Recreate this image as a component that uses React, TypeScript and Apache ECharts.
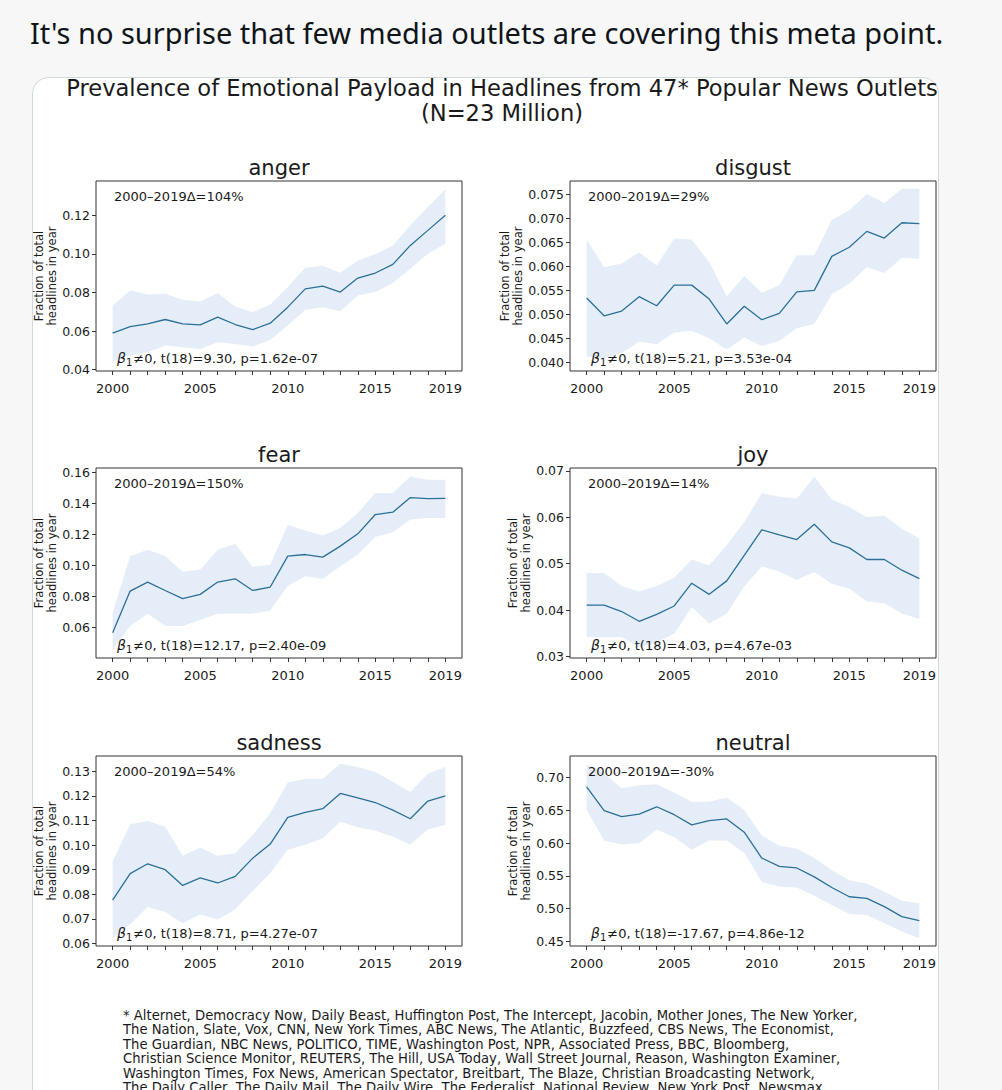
import React, { useEffect, useRef } from "react";
import * as echarts from "echarts";

const years = [2000, 2001, 2002, 2003, 2004, 2005, 2006, 2007, 2008, 2009, 2010, 2011, 2012, 2013, 2014, 2015, 2016, 2017, 2018, 2019];
const xLabelYears = [2000, 2005, 2010, 2015, 2019];
const emotions = ["anger", "disgust", "fear", "joy", "sadness", "neutral"];

const angerMean = [0.0589, 0.0623, 0.0637, 0.0660, 0.0637, 0.0632, 0.0672, 0.0634, 0.0608, 0.0641, 0.0724, 0.0819, 0.0833, 0.0802, 0.0875, 0.0901, 0.0946, 0.1044, 0.1122, 0.1200];
const angerUpper = [0.0733, 0.0810, 0.0790, 0.0793, 0.0762, 0.0753, 0.0797, 0.0727, 0.0698, 0.0738, 0.0828, 0.0928, 0.0939, 0.0902, 0.0966, 0.0998, 0.1044, 0.1148, 0.1243, 0.1334];
const angerLower = [0.0443, 0.0473, 0.0490, 0.0525, 0.0516, 0.0507, 0.0542, 0.0533, 0.0520, 0.0554, 0.0629, 0.0710, 0.0724, 0.0703, 0.0785, 0.0802, 0.0849, 0.0923, 0.1001, 0.1053];

const disgustMean = [0.0534, 0.0497, 0.0507, 0.0537, 0.0518, 0.0561, 0.0561, 0.0532, 0.0480, 0.0517, 0.0489, 0.0502, 0.0547, 0.0550, 0.0621, 0.0640, 0.0673, 0.0659, 0.0691, 0.0689];
const disgustUpper = [0.0656, 0.0598, 0.0606, 0.0629, 0.0602, 0.0658, 0.0656, 0.0609, 0.0538, 0.0580, 0.0545, 0.0561, 0.0623, 0.0623, 0.0697, 0.0717, 0.0751, 0.0732, 0.0762, 0.0762];
const disgustLower = [0.0412, 0.0408, 0.0419, 0.0443, 0.0438, 0.0462, 0.0466, 0.0450, 0.0427, 0.0452, 0.0434, 0.0445, 0.0471, 0.0480, 0.0542, 0.0564, 0.0598, 0.0586, 0.0618, 0.0616];

const fearMean = [0.0568, 0.0835, 0.0893, 0.0839, 0.0786, 0.0814, 0.0893, 0.0914, 0.0839, 0.0861, 0.1060, 0.1070, 0.1053, 0.1124, 0.1203, 0.1327, 0.1342, 0.1436, 0.1429, 0.1431];
const fearUpper = [0.0696, 0.1060, 0.1100, 0.1060, 0.0960, 0.0974, 0.1100, 0.1140, 0.0990, 0.1005, 0.1260, 0.1225, 0.1192, 0.1241, 0.1337, 0.1465, 0.1465, 0.1572, 0.1551, 0.1551];
const fearLower = [0.0457, 0.0610, 0.0690, 0.0610, 0.0610, 0.0650, 0.0690, 0.0690, 0.0690, 0.0710, 0.0867, 0.0930, 0.0914, 0.0995, 0.1070, 0.1183, 0.1213, 0.1295, 0.1305, 0.1305];

const joyMean = [0.0411, 0.0411, 0.0397, 0.0376, 0.0391, 0.0409, 0.0458, 0.0434, 0.0463, 0.0518, 0.0573, 0.0562, 0.0552, 0.0585, 0.0547, 0.0534, 0.0509, 0.0509, 0.0486, 0.0468];
const joyUpper = [0.0480, 0.0480, 0.0452, 0.0440, 0.0452, 0.0470, 0.0509, 0.0496, 0.0540, 0.0590, 0.0652, 0.0644, 0.0640, 0.0687, 0.0638, 0.0622, 0.0600, 0.0604, 0.0575, 0.0554];
const joyLower = [0.0342, 0.0342, 0.0342, 0.0320, 0.0331, 0.0349, 0.0406, 0.0372, 0.0392, 0.0451, 0.0494, 0.0483, 0.0465, 0.0482, 0.0457, 0.0446, 0.0419, 0.0415, 0.0393, 0.0381];

const sadnessMean = [0.0776, 0.0884, 0.0924, 0.0900, 0.0836, 0.0867, 0.0846, 0.0873, 0.0947, 0.1004, 0.1113, 0.1133, 0.1148, 0.1210, 0.1192, 0.1173, 0.1142, 0.1107, 0.1179, 0.1200];
const sadnessUpper = [0.0934, 0.1085, 0.1098, 0.1075, 0.0957, 0.0990, 0.0957, 0.0967, 0.1041, 0.1129, 0.1254, 0.1270, 0.1270, 0.1331, 0.1317, 0.1297, 0.1257, 0.1216, 0.1290, 0.1317];
const sadnessLower = [0.0624, 0.0678, 0.0748, 0.0728, 0.0682, 0.0718, 0.0698, 0.0739, 0.0813, 0.0887, 0.0981, 0.1001, 0.1028, 0.1095, 0.1072, 0.1058, 0.1035, 0.1001, 0.1064, 0.1082];

const neutralMean = [0.6858, 0.6495, 0.6404, 0.6444, 0.6555, 0.6434, 0.6278, 0.6343, 0.6369, 0.6167, 0.5773, 0.5646, 0.5621, 0.5485, 0.5323, 0.5182, 0.5157, 0.5030, 0.4879, 0.4818];
const neutralUpper = [0.7202, 0.7065, 0.6838, 0.6884, 0.6899, 0.6772, 0.6631, 0.6631, 0.6697, 0.6505, 0.6116, 0.5965, 0.5914, 0.5773, 0.5586, 0.5434, 0.5384, 0.5258, 0.5121, 0.5081];
const neutralLower = [0.6505, 0.6040, 0.5980, 0.6000, 0.6207, 0.6091, 0.5899, 0.6040, 0.6040, 0.5848, 0.5409, 0.5333, 0.5323, 0.5197, 0.5056, 0.4919, 0.4904, 0.4778, 0.4651, 0.4550];

const angerTicks = ["0.04", "0.06", "0.08", "0.10", "0.12"];
const disgustTicks = ["0.040", "0.045", "0.050", "0.055", "0.060", "0.065", "0.070", "0.075"];
const fearTicks = ["0.06", "0.08", "0.10", "0.12", "0.14", "0.16"];
const joyTicks = ["0.03", "0.04", "0.05", "0.06", "0.07"];
const sadnessTicks = ["0.06", "0.07", "0.08", "0.09", "0.10", "0.11", "0.12", "0.13"];
const neutralTicks = ["0.45", "0.50", "0.55", "0.60", "0.65", "0.70"];

const yMins = [0.0393, 0.0382, 0.0405, 0.0297, 0.0590, 0.4430];
const yMaxs = [0.1378, 0.0778, 0.1626, 0.0706, 0.1362, 0.7330];

const deltaLabels = ["2000–2019Δ=104%", "2000–2019Δ=29%", "2000–2019Δ=150%", "2000–2019Δ=14%", "2000–2019Δ=54%", "2000–2019Δ=-30%"];
const tStats = ["9.30", "5.21", "12.17", "4.03", "8.71", "-17.67"];
const pValues = ["1.62e-07", "3.53e-04", "2.40e-09", "4.67e-03", "4.27e-07", "4.86e-12"];

const tweetText = "It's no surprise that few media outlets are covering this meta point.";
const titleLines = ["Prevalence of Emotional Payload in Headlines from 47* Popular News Outlets", "(N=23 Million)"];
const yAxisName = "Fraction of total\nheadlines in year";
const footnoteLines = [
  "* Alternet, Democracy Now, Daily Beast, Huffington Post, The Intercept, Jacobin, Mother Jones, The New Yorker,",
  "The Nation, Slate, Vox, CNN, New York Times, ABC News, The Atlantic, Buzzfeed, CBS News, The Economist,",
  "The Guardian, NBC News, POLITICO, TIME, Washington Post, NPR, Associated Press, BBC, Bloomberg,",
  "Christian Science Monitor, REUTERS, The Hill, USA Today, Wall Street Journal, Reason, Washington Examiner,",
  "Washington Times, Fox News, American Spectator, Breitbart, The Blaze, Christian Broadcasting Network,",
  "The Daily Caller, The Daily Mail, The Daily Wire, The Federalist, National Review, New York Post, Newsmax",
];

const means = [angerMean, disgustMean, fearMean, joyMean, sadnessMean, neutralMean];
const uppers = [angerUpper, disgustUpper, fearUpper, joyUpper, sadnessUpper, neutralUpper];
const lowers = [angerLower, disgustLower, fearLower, joyLower, sadnessLower, neutralLower];
const tickLabels = [angerTicks, disgustTicks, fearTicks, joyTicks, sadnessTicks, neutralTicks];

const FONT = "DejaVu Sans";
const LINE = "#2b6f98";
const BAND = "#e5eef8";
const AX = "#333333";
const TXT = "#1a1a1a";

const colLeft = [96, 570];
const rowTop = [181, 468, 756];
const GW = 366;
const GH = 190;

function buildOption() {
  const grids: any[] = [];
  const xAxes: any[] = [];
  const yAxes: any[] = [];
  const series: any[] = [];
  const graphics: any[] = [];

  graphics.push({
    type: "rect", z: -10, silent: true,
    shape: { x: 32.5, y: 77.5, width: 906, height: 1030, r: 16 },
    style: { fill: "#ffffff", stroke: "#cfd9de", lineWidth: 1 },
  });
  graphics.push({
    type: "text", z: 100, x: 30, y: 32,
    style: { text: tweetText, font: "29px 'Noto Sans'", fill: "#0f1419", textVerticalAlign: "middle" },
  });
  titleLines.forEach((t, k) => {
    graphics.push({
      type: "text", z: 100, x: 502, y: 88 + k * 25,
      style: { text: t, fontFamily: FONT, fontSize: 22.6, fill: TXT, textAlign: "center", textVerticalAlign: "middle" },
    });
  });

  emotions.forEach((name, i) => {
    const left = colLeft[i % 2];
    const top = rowTop[Math.floor(i / 2)];
    grids.push({
      left, top, width: GW, height: GH, show: true,
      borderColor: AX, borderWidth: 1, backgroundColor: "transparent",
      containLabel: false, outerBoundsMode: "none",
    });
    xAxes.push({
      type: "value", gridIndex: i, min: 1999.05, max: 2019.95,
      splitLine: { show: false },
      axisLine: { show: false },
      axisTick: { show: true, customValues: years, length: 4, lineStyle: { color: AX, width: 1 } },
      axisLabel: {
        customValues: xLabelYears, margin: 11, fontSize: 13, fontFamily: FONT, color: TXT,
        formatter: (v: number) => String(Math.round(v)),
      },
    });
    const labels = tickLabels[i];
    const vals = labels.map((s) => parseFloat(s));
    yAxes.push({
      type: "value", gridIndex: i, min: yMins[i], max: yMaxs[i],
      splitLine: { show: false },
      axisLine: { show: false },
      axisTick: { show: true, customValues: vals, length: 4, lineStyle: { color: AX, width: 1 } },
      axisLabel: {
        customValues: vals, margin: 6, fontSize: 12.5, fontFamily: FONT, color: TXT,
        formatter: (v: number) => {
          const idx = vals.findIndex((x) => Math.abs(x - v) < 1e-9);
          return idx >= 0 ? labels[idx] : "";
        },
      },
      name: yAxisName, nameLocation: "middle", nameRotate: 90, nameGap: 35,
      nameTextStyle: { fontSize: 11.5, lineHeight: 13, fontFamily: FONT, color: TXT, align: "center" },
    });
    const up = uppers[i];
    const lo = lowers[i];
    series.push({
      type: "custom", xAxisIndex: i, yAxisIndex: i, silent: true, z: 1,
      data: years.map((y, k) => [y, lo[k], up[k]]),
      encode: { x: 0, y: [1, 2] },
      renderItem: (params: any, api: any) => {
        if (params.dataIndex !== 0) return null;
        const topPts = years.map((y, k) => api.coord([y, up[k]]));
        const botPts = years.map((y, k) => api.coord([y, lo[k]])).reverse();
        return { type: "polygon", shape: { points: topPts.concat(botPts) }, style: { fill: BAND, stroke: null } };
      },
    });
    series.push({
      type: "line", xAxisIndex: i, yAxisIndex: i, z: 3, silent: true,
      data: years.map((y, k) => [y, means[i][k]]),
      symbol: "none", showSymbol: false,
      lineStyle: { color: LINE, width: 1.3 },
    });

    graphics.push({
      type: "text", z: 100, x: left + GW / 2, y: top - 13.5,
      style: { text: name, fontFamily: FONT, fontSize: 21, fill: TXT, textAlign: "center", textVerticalAlign: "middle" },
    });
    graphics.push({
      type: "text", z: 100, x: left + 18, y: top + 15.5,
      style: { text: deltaLabels[i], fontFamily: FONT, fontSize: 13, fill: TXT, textVerticalAlign: "middle" },
    });
    graphics.push({
      type: "text", z: 100, x: left + 21, y: top + GH - 13,
      style: {
        text: "{b|β}{s|1}{n|≠0, t(18)=" + tStats[i] + ", p=" + pValues[i] + "}",
        fontFamily: FONT, fontSize: 13, fill: TXT, textVerticalAlign: "middle",
        rich: {
          b: { fontFamily: FONT, fontSize: 14, fontStyle: "italic", fill: TXT, lineHeight: 18, verticalAlign: "middle" },
          s: { fontFamily: FONT, fontSize: 10, fill: TXT, lineHeight: 12, verticalAlign: "bottom", padding: [0, 1, 0, 0] },
          n: { fontFamily: FONT, fontSize: 13, fill: TXT, lineHeight: 18, verticalAlign: "middle" },
        },
      },
    });
  });

  graphics.push({
    type: "text", z: 100, x: 123, y: 1008,
    style: { text: footnoteLines.join("\n"), fontFamily: FONT, fontSize: 13.2, lineHeight: 14.5, fill: TXT, textVerticalAlign: "top" },
  });

  return {
    animation: false,
    backgroundColor: "#f7f7f7",
    textStyle: { fontFamily: FONT },
    grid: grids,
    xAxis: xAxes,
    yAxis: yAxes,
    series,
    graphic: { elements: graphics },
  };
}

export default function App() {
  const ref = useRef<HTMLDivElement>(null);
  useEffect(() => {
    if (!ref.current) return;
    const chart = echarts.init(ref.current, undefined, { renderer: "svg" });
    chart.setOption(buildOption() as any);
    return () => chart.dispose();
  }, []);
  return <div ref={ref} style={{ position: "fixed", left: 0, top: 0, width: 1002, height: 1090 }} />;
}
